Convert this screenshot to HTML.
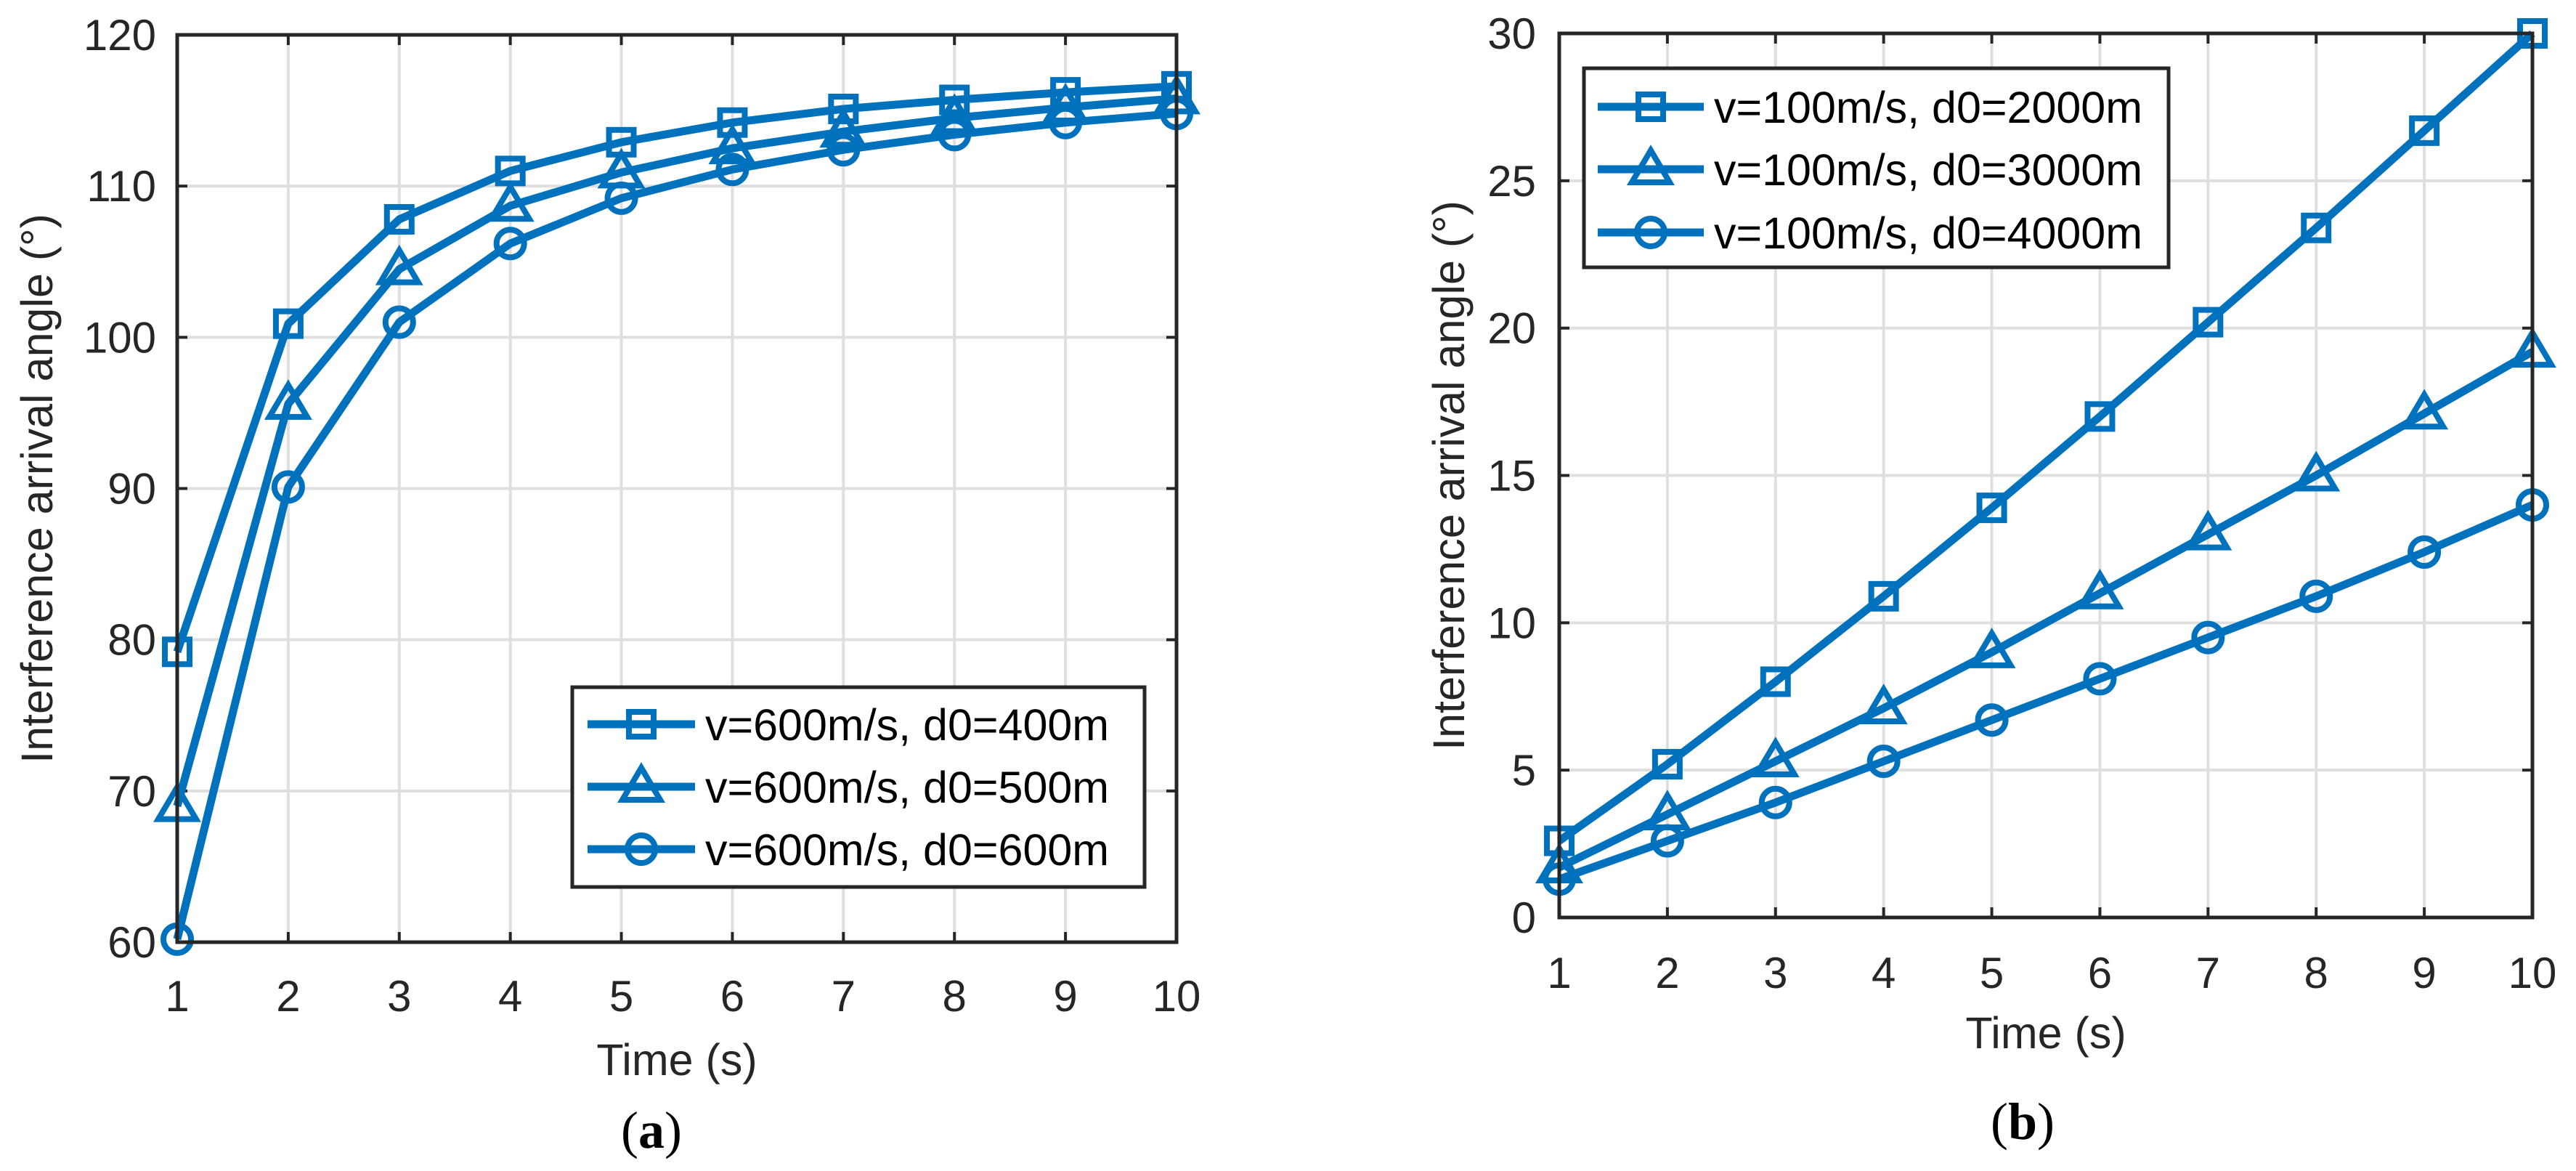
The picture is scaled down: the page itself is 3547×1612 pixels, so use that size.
<!DOCTYPE html>
<html><head><meta charset="utf-8"><style>
html,body{margin:0;padding:0;background:#fff;}
svg{display:block;font-family:"Liberation Sans",Arial,sans-serif;}
</style></head><body>
<svg id="fig" width="3547" height="1612" viewBox="0 0 3547 1612" xmlns="http://www.w3.org/2000/svg"></svg>
<script>
const timeCats = [1,2,3,4,5,6,7,8,9,10];
const aSquare = [79.2,100.9,107.8,111.0,112.9,114.2,115.1,115.7,116.2,116.6];
const aTriangle = [69.0,95.6,104.5,108.7,110.9,112.5,113.6,114.5,115.2,115.8];
const aCircle = [60.2,90.1,101.0,106.2,109.2,111.1,112.4,113.4,114.2,114.8];
const aYTicks = [60,70,80,90,100,110,120];
const aLabels = ["v=600m/s, d0=400m","v=600m/s, d0=500m","v=600m/s, d0=600m"];
const bSquare = [2.6,5.2,8.0,10.9,13.9,17.0,20.2,23.4,26.7,30.0];
const bTriangle = [1.7,3.5,5.3,7.1,9.0,11.0,13.0,15.0,17.1,19.2];
const bCircle = [1.3,2.6,3.9,5.3,6.7,8.1,9.5,10.9,12.4,14.0];
const bYTicks = [0,5,10,15,20,25,30];
const bLabels = ["v=100m/s, d0=2000m","v=100m/s, d0=3000m","v=100m/s, d0=4000m"];

const NS="http://www.w3.org/2000/svg";
const svg=document.getElementById('fig');
const BLUE="#0072bd", AX="#262626";
function mk(tag,attrs,parent){const e=document.createElementNS(NS,tag);for(const k in attrs)e.setAttribute(k,attrs[k]);(parent||svg).appendChild(e);return e;}

function marker(g,type,x,y){
  let m;
  if(type==='s') m=mk('rect',{x:x-17,y:y-17,width:34,height:34,fill:'none',stroke:BLUE,'stroke-width':8},g);
  else if(type==='t') m=mk('polygon',{points:`${x},${y-26} ${x-26},${y+18} ${x+26},${y+18}`,fill:'none',stroke:BLUE,'stroke-width':8},g);
  else m=mk('circle',{cx:x,cy:y,r:19,fill:'none',stroke:BLUE,'stroke-width':8},g);
  return m;
}

function panel(o){
  const g=mk('g',{});
  
  
  const X=v=>o.x0+(v-1)/9*(o.x1-o.x0);
  const Y=v=>o.y1-(v-o.ymin)/(o.ymax-o.ymin)*(o.y1-o.y0);
  // grid
  timeCats.forEach(t=>{const l=mk('line',{x1:X(t),x2:X(t),y1:o.y0,y2:o.y1,stroke:'#dfdfdf','stroke-width':4},g);
    });
  o.yt.forEach(t=>{const l=mk('line',{x1:o.x0,x2:o.x1,y1:Y(t),y2:Y(t),stroke:'#dfdfdf','stroke-width':4},g);
    });
  // ticks
  timeCats.forEach(t=>{mk('line',{x1:X(t),x2:X(t),y1:o.y1,y2:o.y1-14,stroke:AX,'stroke-width':4},g);
    mk('line',{x1:X(t),x2:X(t),y1:o.y0,y2:o.y0+14,stroke:AX,'stroke-width':4},g);
    const tx=mk('text',{x:X(t),y:o.xly,'font-size':60,fill:AX,'text-anchor':'middle'},g);tx.textContent=t;
    });
  o.yt.forEach(t=>{mk('line',{x1:o.x0,x2:o.x0+14,y1:Y(t),y2:Y(t),stroke:AX,'stroke-width':4},g);
    mk('line',{x1:o.x1,x2:o.x1-14,y1:Y(t),y2:Y(t),stroke:AX,'stroke-width':4},g);
    const tx=mk('text',{x:o.ylx,y:Y(t)+21,'font-size':60,fill:AX,'text-anchor':'end'},g);tx.textContent=t;
    });
  // series
  const types=['s','t','c'];
  o.series.forEach((s,i)=>{
    const sg=mk('g',{},g);
    
    
    mk('polyline',{points:s.map((v,j)=>X(timeCats[j])+','+Y(v)).join(' '),fill:'none',stroke:BLUE,'stroke-width':11,'stroke-linejoin':'round'},sg);
    s.forEach((v,j)=>{const m=marker(sg,types[i],X(timeCats[j]),Y(v));
      });
  });
  // axes box
  const b=mk('rect',{x:o.x0,y:o.y0,width:o.x1-o.x0,height:o.y1-o.y0,fill:'none',stroke:AX,'stroke-width':5},g);
  
  // legend
  const L=o.leg;
  const lg=mk('g',{},g);
  
  
  mk('rect',{x:L.x,y:L.y,width:L.w,height:L.h,fill:'#fff',stroke:AX,'stroke-width':5},lg);
  o.labels.forEach((lab,i)=>{
    const ry=L.rows[i];
    const eg=mk('g',{},lg);
    
    
    mk('line',{x1:L.lx0,x2:L.lx1,y1:ry,y2:ry,stroke:BLUE,'stroke-width':11},eg);
    marker(eg,types[i],(L.lx0+L.lx1)/2,ry);
    const t=mk('text',{x:L.tx,y:ry+22,'font-size':61,fill:'#000'},eg);t.textContent=lab;
  });
  // titles
  const xt=mk('text',{x:(o.x0+o.x1)/2,y:o.xty,'font-size':61,fill:AX,'text-anchor':'middle'},g);xt.textContent='Time (s)';
  
  const yt=mk('text',{x:0,y:0,'font-size':61,fill:AX,'text-anchor':'middle',transform:`translate(${o.ytx},${(o.y0+o.y1)/2}) rotate(-90)`},g);
  yt.textContent='Interference arrival angle (°)';
  
  const cap=mk('text',{x:o.capx,y:o.capy,'font-size':72,fill:'#000','text-anchor':'middle','font-family':'"Liberation Serif",serif'},g);
  cap.innerHTML='(<tspan font-weight="bold">'+o.cap+'</tspan>)';
  
}

panel({name:'chart-a',x0:244,x1:1620,y0:48,y1:1297,ymin:60,ymax:120,yt:aYTicks,
  series:[aSquare,aTriangle,aCircle],labels:aLabels,xly:1392,ylx:215,xty:1480,ytx:72,
  capx:897,capy:1580,cap:'a',
  leg:{x:788,y:946,w:788,h:275,rows:[997,1083,1169],lx0:809,lx1:957,tx:971}});
panel({name:'chart-b',x0:2147,x1:3487,y0:46,y1:1263,ymin:0,ymax:30,yt:bYTicks,
  series:[bSquare,bTriangle,bCircle],labels:bLabels,xly:1360,ylx:2115,xty:1443,ytx:2016,
  capx:2785,capy:1568,cap:'b',
  leg:{x:2181,y:94,w:805,h:274,rows:[147,233,320],lx0:2200,lx1:2346,tx:2360}});
</script>
</body></html>
